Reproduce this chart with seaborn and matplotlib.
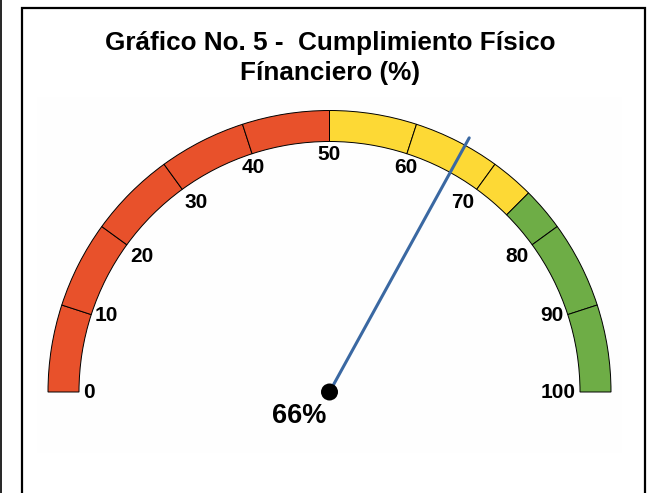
import numpy as np
import seaborn as sns
import matplotlib.pyplot as plt
from matplotlib.patches import Wedge, Rectangle

# gauge data
bounds = [0, 10, 20, 30, 40, 50, 60, 70, 75, 80, 90, 100]
band_colors = ["#E8512B"] * 5 + ["#FDD935"] * 3 + ["#6EAD46"] * 3
tick_values = [0, 10, 20, 30, 40, 50, 60, 70, 80, 90, 100]
value = 66
title_1 = "Gráfico No. 5 -  Cumplimiento Físico"
title_2 = "Fínanciero (%)"

sns.set_style("white")
plt.rcParams["font.family"] = ["Liberation Sans", "DejaVu Sans"]
plt.rcParams["text.color"] = "black"

W, H = 649, 493
cx, cy = 329.5, 392      # gauge centre in pixels (from top-left)
r_out, width = 281.5, 31

fig = plt.figure(figsize=(W / 100, H / 100), dpi=100)
ax = fig.add_axes([0, 0, 1, 1])
# one data unit = one pixel, origin at gauge centre, y up
ax.set_xlim(-cx, W - cx)
ax.set_ylim(-(H - cy), cy)
ax.axis("off")


def ang(v):
    return 180 - v * 1.8


def py(y):
    return cy - y


# outer frame and faint plot background
ax.add_patch(Rectangle((21.5 - cx, py(H + 5)), 623, H + 5 - 8, fill=False,
                       edgecolor="black", lw=1.6, zorder=1))
ax.plot([1 - cx, 1 - cx], [py(0), py(H)], color="black", lw=1.2)
ax.add_patch(Rectangle((37 - cx, py(453)), 585, 356, facecolor="#fefefe",
                       edgecolor="none", zorder=0))

for lo, hi, c in zip(bounds[:-1], bounds[1:], band_colors):
    ax.add_patch(Wedge((0, 0), r_out, ang(hi), ang(lo), width=width,
                       facecolor=c, edgecolor="black", lw=0.7, zorder=2))

r_lab = r_out - width - 4
for v in tick_values:
    a = np.radians(ang(v))
    c, s = np.cos(a), np.sin(a)
    ha = "left" if c < -0.4 else ("right" if c > 0.4 else "center")
    va = "top" if s > 0.5 else "center"
    ax.text(r_lab * c, r_lab * s, str(v), ha=ha, va=va, fontsize=15,
            fontweight="bold", color="black", zorder=3)

# needle
a = np.radians(ang(value))
needle = 290
sns.lineplot(x=[0, needle * np.cos(a)], y=[0, needle * np.sin(a)], sort=False,
             color="#3A68A2", lw=2.2, ax=ax, zorder=4)
sns.scatterplot(x=[0], y=[0], color="black", s=150, edgecolor="none", ax=ax,
                zorder=5)

ax.text(-30.5, -24, f"{value}%", ha="center", va="center", fontsize=19.5,
        fontweight="bold", color="black")

ax.text(330 - cx, py(50), title_1, ha="center", va="baseline", fontsize=18.8,
        fontweight="bold", color="black")
ax.text(330 - cx, py(80), title_2, ha="center", va="baseline", fontsize=18.8,
        fontweight="bold", color="black")

fig.savefig("out.png", dpi=100)
